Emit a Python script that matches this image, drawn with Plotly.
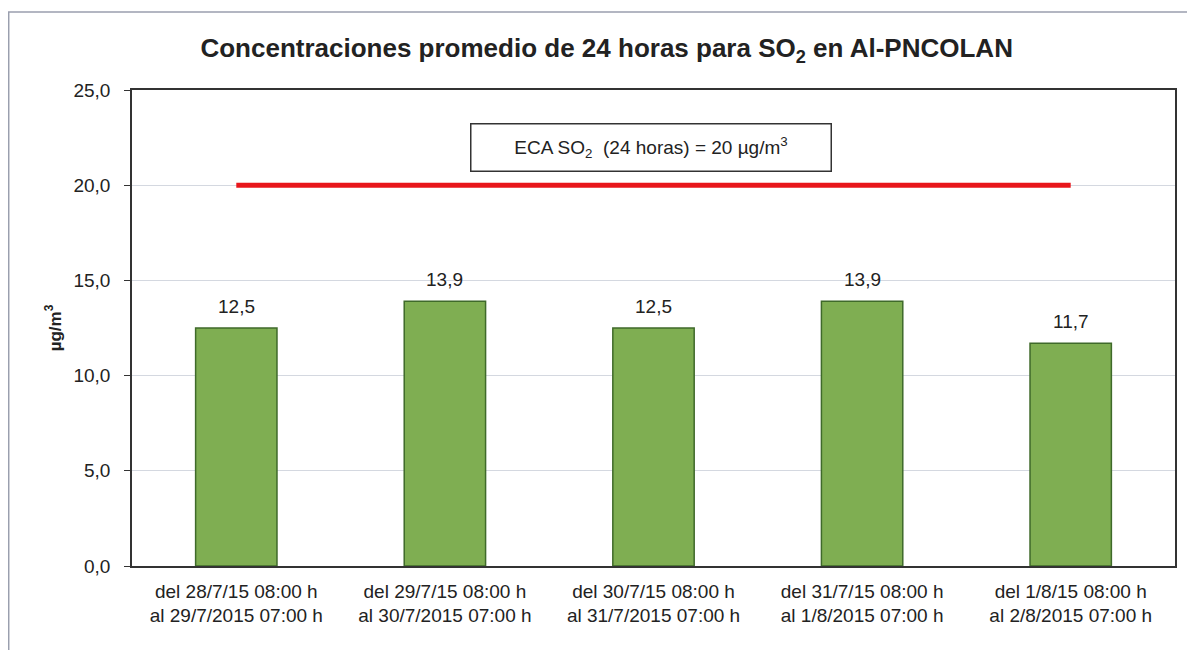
import plotly.graph_objs as go

# data
periodos = ["del 28/7/15 08:00 h<br>al 29/7/2015 07:00 h",
            "del 29/7/15 08:00 h<br>al 30/7/2015 07:00 h",
            "del 30/7/15 08:00 h<br>al 31/7/2015 07:00 h",
            "del 31/7/15 08:00 h<br>al 1/8/2015 07:00 h",
            "del 1/8/15 08:00 h<br>al 2/8/2015 07:00 h"]
so2 = [12.5, 13.9, 12.5, 13.9, 11.7]
eca = [20, 20, 20, 20, 20]
y_ticks = [0, 5, 10, 15, 20, 25]

fig = go.Figure()

fig.add_trace(go.Bar(
    x=periodos, y=so2,
    width=0.39,
    marker=dict(color="#7fae52", line=dict(color="#3f6a2a", width=1.5)),
    showlegend=False,
))

fig.add_trace(go.Scatter(
    x=periodos, y=eca,
    mode="lines",
    line=dict(color="#e8161b", width=5),
    showlegend=False,
))

# value labels sit a bit higher above the bars than plotly's outside text
for p, v in zip(periodos, so2):
    fig.add_annotation(x=p, y=v, text=("%.1f" % v).replace(".", ","),
                       showarrow=False, yanchor="middle", yshift=22,
                       font=dict(size=19, color="#222222"))

# page body adds ~8px offset, so margins are shifted to compensate
fig.update_layout(
    width=1195, height=650,
    margin=dict(l=124, r=28, t=82, b=92),
    paper_bgcolor="white", plot_bgcolor="white",
    font=dict(family="Liberation Sans, Arial, sans-serif", color="#222222"),
    separators=",.",
    title=dict(
        text="<b>Concentraciones promedio de 24 horas para SO<sub>2</sub> en Al-PNCOLAN</b>",
        x=0.501, xanchor="center", y=0.938, yanchor="middle",
        font=dict(size=26, color="#222222"),
    ),
    xaxis=dict(
        showline=True, linecolor="#333333", linewidth=1.5, mirror=True,
        tickfont=dict(size=19), ticks="", ticklabelstandoff=7,
    ),
    yaxis=dict(
        range=[0, 25], tickvals=y_ticks, tickformat=".1f",
        showline=True, linecolor="#333333", linewidth=1.5, mirror=True,
        showgrid=True, gridcolor="#d4d8e0", gridwidth=1,
        tickfont=dict(size=19), ticks="outside", ticklen=6, tickcolor="#333333",
        ticklabelstandoff=10,
        title=dict(text="<b>µg/m<sup>3</sup></b>", font=dict(size=17), standoff=8),
        zeroline=False,
    ),
)

# ECA label box
fig.add_annotation(
    x=0.4976, y=0.880, xref="paper", yref="paper",
    xanchor="center", yanchor="middle",
    text="ECA SO<sub>2</sub>  (24 horas) = 20 µg/m<sup>3</sup>",
    showarrow=False, font=dict(size=19, color="#222222"),
    bordercolor="#333333", borderwidth=1.5, borderpad=12,
    bgcolor="white", width=335, height=22,
)

# outer chart frame
fig.add_shape(type="rect", xref="paper", yref="paper",
              x0=-0.1182, x1=1.1, y0=-0.3, y1=1.1639,
              line=dict(color="#9a9fae", width=1.5), layer="below")

fig.write_html("out.html")
